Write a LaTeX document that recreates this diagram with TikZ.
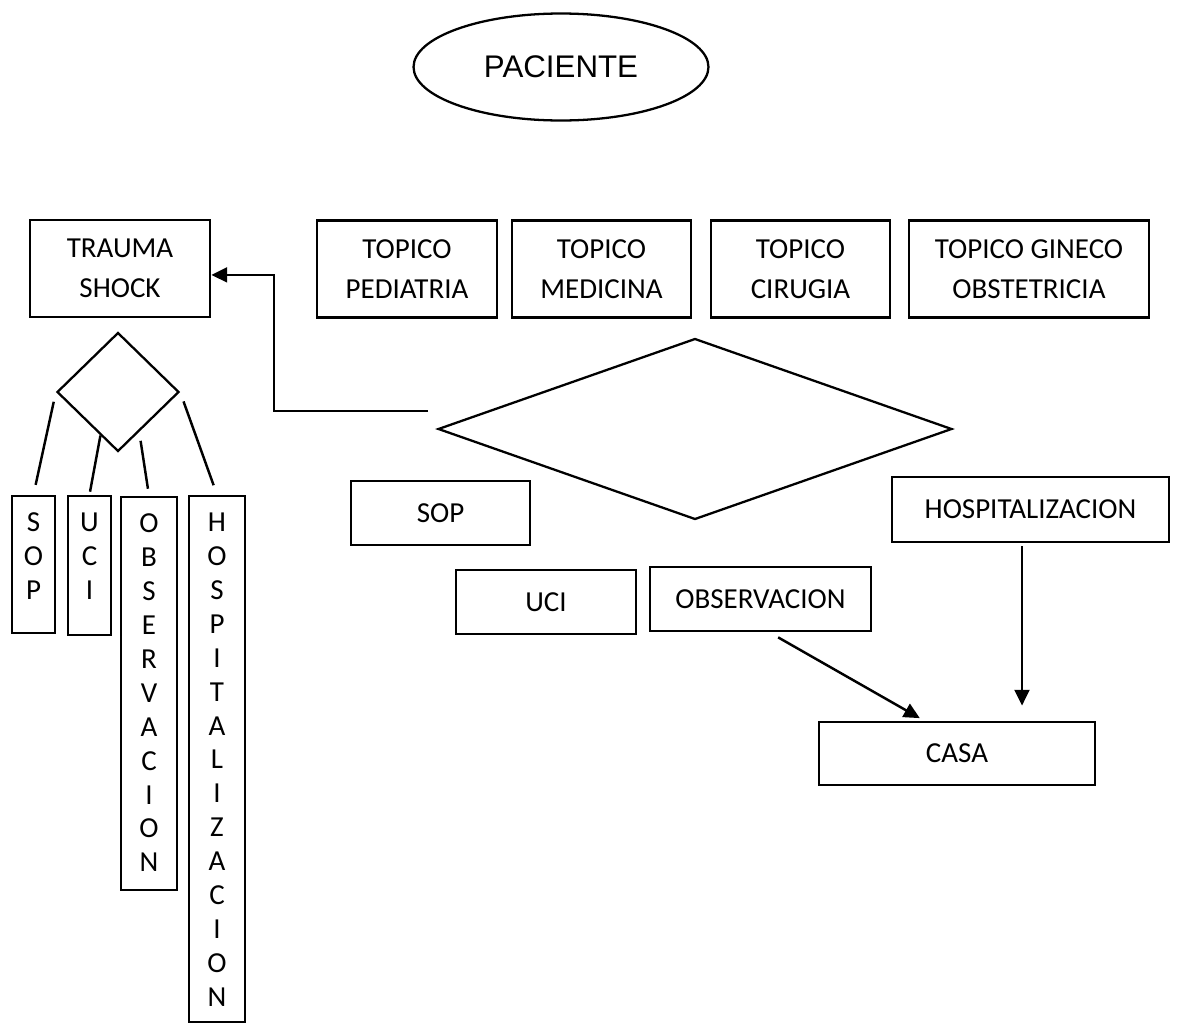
\documentclass[tikz,border=0pt]{standalone}
\usepackage{fontspec}
\setmainfont{Carlito}
\newfontfamily\arialfont{Liberation Sans}
\usetikzlibrary{shapes.geometric,arrows.meta,positioning}

\tikzset{
  box/.style={draw, line width=1.6pt, align=center, inner sep=0pt,
    font=\fontsize{16.5}{22.7}\selectfont},
  vbox/.style={draw, line width=1.6pt, inner sep=0pt},
  vtext/.style={align=center, inner sep=0pt, font=\fontsize{16.5}{19.3}\selectfont},
  decision/.style={draw, diamond, line width=1.3pt, inner sep=0pt},
  link/.style={line width=1.4pt},
  arrow/.style={link, -{Triangle[length=9pt,width=8.5pt]}}
}

\begin{document}
\begin{tikzpicture}[x=0.02cm,y=-0.02cm]
      \useasboundingbox (0,0) rectangle (1177,1025);

      % paciente
      \node[draw, ellipse, line width=1.3pt, minimum width=5.9cm, minimum height=2.14cm,
        font=\arialfont\fontsize{17.8}{20}\selectfont] (paciente) at (561,67) {PACIENTE};

      % topicos
      \node[box, minimum width=3.6cm, minimum height=1.94cm] (trauma) at (120,268.5) {TRAUMA\\SHOCK};
      \foreach \x/\w/\n/\t in {407/3.6cm/pediatria/{TOPICO\\PEDIATRIA},
                               601.5/3.58cm/medicina/{TOPICO\\MEDICINA},
                               800.5/3.58cm/cirugia/{TOPICO\\CIRUGIA},
                               1029/4.8cm/gineco/{TOPICO GINECO\\OBSTETRICIA}} {
        \node[box, minimum width=\w, minimum height=1.94cm] (\n) at (\x,269) {\t};
      }

      % decisiones
      \node[decision, minimum width=10.28cm, minimum height=3.62cm] (choice) at (695,429) {};
      \node[decision, minimum width=2.44cm, minimum height=2.38cm] (tsplit) at (118,392) {};

      % destinos
      \node[box, minimum width=3.58cm, minimum height=1.28cm] (sop) at (440.5,513) {SOP};
      \node[box, minimum width=3.6cm, minimum height=1.28cm] (uci) at (546,602) {UCI};
      \node[box, minimum width=4.42cm, minimum height=1.28cm] (obs) at (760.5,599) {OBSERVACION};
      \node[box, minimum width=5.54cm, minimum height=1.3cm] (hosp) at (1030.5,509.5) {HOSPITALIZACION};
      \node[box, minimum width=5.52cm, minimum height=1.26cm] (casa) at (957,753.5) {CASA};

      % columnas trauma shock
      \node[vbox, minimum width=0.86cm, minimum height=2.74cm] (tsop) at (33.5,564.5) {};
      \node[vbox, minimum width=0.86cm, minimum height=2.78cm] (tuci) at (89.5,565.5) {};
      \node[vbox, minimum width=1.12cm, minimum height=7.86cm] (tobs) at (149,693.5) {};
      \node[vbox, minimum width=1.12cm, minimum height=10.52cm] (thosp) at (217,759) {};
      \node[vtext, below=0.36cm of tsop.north] {S\\O\\P};
      \node[vtext, below=0.36cm of tuci.north] {U\\C\\I};
      \node[vtext, below=0.36cm of tobs.north] {O\\B\\S\\E\\R\\V\\A\\C\\I\\O\\N};
      \node[vtext, below=0.36cm of thosp.north] {H\\O\\S\\P\\I\\T\\A\\L\\I\\Z\\A\\C\\I\\O\\N};

      \draw[link, shorten <=0.2cm, shorten >=0.2cm] (tsplit.west) -- (tsop.north);
      \draw[link, shorten >=0.06cm] (tsplit.248) -- (tuci.north);
      \draw[link, shorten <=0.18cm, shorten >=0.14cm] (tsplit.298) -- (tobs.north);
      \draw[link, shorten <=0.2cm, shorten >=0.2cm] (tsplit.east) -- (thosp.north);

      % flechas
      \coordinate (split) at (428,411);
      \coordinate (bend) at (274,411);
      \draw[arrow] (split) -- (bend) |- (trauma.-4);
      \draw[arrow, shorten <=0.2cm, shorten >=0.1cm] (obs.-75) -- (casa.135);
      \draw[arrow, shorten <=0.06cm, shorten >=0.3cm] ([xshift=-0.17cm]hosp.south)
        -- ([xshift=-0.17cm]hosp.south |- casa.north);

\end{tikzpicture}
\end{document}
